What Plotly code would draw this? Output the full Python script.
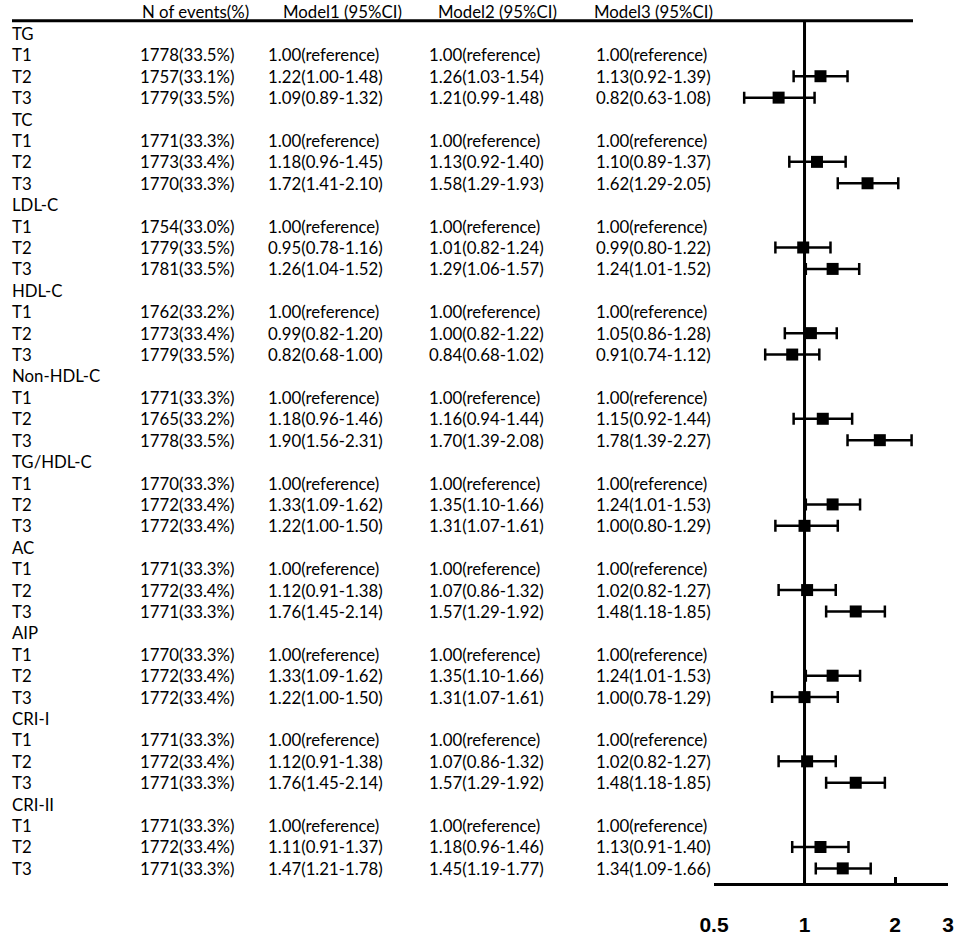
import numpy as np
import plotly.graph_objects as go

W, H = 957, 937

groups = ["TG", "TC", "LDL-C", "HDL-C", "Non-HDL-C", "TG/HDL-C", "AC", "AIP", "CRI-I", "CRI-II"]
tertiles = ["T1", "T2", "T3"]

# N of events(%) for T1, T2, T3 of each group
events = [
    "1778(33.5%)", "1757(33.1%)", "1779(33.5%)",
    "1771(33.3%)", "1773(33.4%)", "1770(33.3%)",
    "1754(33.0%)", "1779(33.5%)", "1781(33.5%)",
    "1762(33.2%)", "1773(33.4%)", "1779(33.5%)",
    "1771(33.3%)", "1765(33.2%)", "1778(33.5%)",
    "1770(33.3%)", "1772(33.4%)", "1772(33.4%)",
    "1771(33.3%)", "1772(33.4%)", "1771(33.3%)",
    "1770(33.3%)", "1772(33.4%)", "1772(33.4%)",
    "1771(33.3%)", "1772(33.4%)", "1771(33.3%)",
    "1771(33.3%)", "1772(33.4%)", "1771(33.3%)",
]

# hazard ratios for T2 and T3 (T1 is the reference), per group
m1_hr = [1.22, 1.09, 1.18, 1.72, 0.95, 1.26, 0.99, 0.82, 1.18, 1.90, 1.33, 1.22, 1.12, 1.76, 1.33, 1.22, 1.12, 1.76, 1.11, 1.47]
m1_lo = [1.00, 0.89, 0.96, 1.41, 0.78, 1.04, 0.82, 0.68, 0.96, 1.56, 1.09, 1.00, 0.91, 1.45, 1.09, 1.00, 0.91, 1.45, 0.91, 1.21]
m1_hi = [1.48, 1.32, 1.45, 2.10, 1.16, 1.52, 1.20, 1.00, 1.46, 2.31, 1.62, 1.50, 1.38, 2.14, 1.62, 1.50, 1.38, 2.14, 1.37, 1.78]

m2_hr = [1.26, 1.21, 1.13, 1.58, 1.01, 1.29, 1.00, 0.84, 1.16, 1.70, 1.35, 1.31, 1.07, 1.57, 1.35, 1.31, 1.07, 1.57, 1.18, 1.45]
m2_lo = [1.03, 0.99, 0.92, 1.29, 0.82, 1.06, 0.82, 0.68, 0.94, 1.39, 1.10, 1.07, 0.86, 1.29, 1.10, 1.07, 0.86, 1.29, 0.96, 1.19]
m2_hi = [1.54, 1.48, 1.40, 1.93, 1.24, 1.57, 1.22, 1.02, 1.44, 2.08, 1.66, 1.61, 1.32, 1.92, 1.66, 1.61, 1.32, 1.92, 1.46, 1.77]

m3_hr = [1.13, 0.82, 1.10, 1.62, 0.99, 1.24, 1.05, 0.91, 1.15, 1.78, 1.24, 1.00, 1.02, 1.48, 1.24, 1.00, 1.02, 1.48, 1.13, 1.34]
m3_lo = [0.92, 0.63, 0.89, 1.29, 0.80, 1.01, 0.86, 0.74, 0.92, 1.39, 1.01, 0.80, 0.82, 1.18, 1.01, 0.78, 0.82, 1.18, 0.91, 1.09]
m3_hi = [1.39, 1.08, 1.37, 2.05, 1.22, 1.52, 1.28, 1.12, 1.44, 2.27, 1.53, 1.29, 1.27, 1.85, 1.53, 1.29, 1.27, 1.85, 1.40, 1.66]

headers = ["N of events(%)", "Model1 (95%CI)", "Model2 (95%CI)", "Model3 (95%CI)"]
xticks = [0.5, 1, 2, 3]

FONT = "Lato"
FS = 16.8

# pixel layout helpers
row0, row_h = 33.4, 21.41
top_px, axis_px = 20.7, 883
col_px = [10, 138, 266, 427, 594]
head_px = [140, 281, 436, 592]


def px_x(p):
    return p / W


def px_y(p):
    return 1 - p / H


def fmt(hr, lo, hi):
    return f"{hr:.2f}({lo:.2f}-{hi:.2f})"


annotations = []


def add_text(text, x, y, yref="y"):
    annotations.append(dict(text=text, x=x, y=y, xref="paper", yref=yref,
                            xanchor="left", yanchor="middle", showarrow=False,
                            font=dict(family=FONT, size=FS, color="black")))


for h, hx in zip(headers, head_px):
    add_text(h, px_x(hx), px_y(11), yref="paper")

pt_y = []
r = 0
k = 0
for gi, g in enumerate(groups):
    add_text(g, px_x(col_px[0]), r)
    r += 1
    for ti, t in enumerate(tertiles):
        add_text(t, px_x(col_px[0]), r)
        add_text(events[gi * 3 + ti], px_x(col_px[1]), r)
        if ti == 0:
            for c in col_px[2:]:
                add_text("1.00(reference)", px_x(c), r)
        else:
            add_text(fmt(m1_hr[k], m1_lo[k], m1_hi[k]), px_x(col_px[2]), r)
            add_text(fmt(m2_hr[k], m2_lo[k], m2_hi[k]), px_x(col_px[3]), r)
            add_text(fmt(m3_hr[k], m3_lo[k], m3_hi[k]), px_x(col_px[4]), r)
            pt_y.append(r)
            k += 1
        r += 1

y_top = (top_px - row0) / row_h
y_bot = (axis_px - row0) / row_h

fig = go.Figure()

# reference line at HR = 1
fig.add_trace(go.Scatter(x=[1, 1], y=[y_top, y_bot], mode="lines",
                         line=dict(color="black", width=3), hoverinfo="skip",
                         cliponaxis=False))

hr = np.array(m3_hr)
fig.add_trace(go.Scatter(
    x=hr, y=pt_y, mode="markers",
    marker=dict(symbol="square", size=12, color="black"),
    error_x=dict(type="data", symmetric=False,
                 array=np.array(m3_hi) - hr, arrayminus=hr - np.array(m3_lo),
                 color="black", thickness=2.5, width=6),
    cliponaxis=False,
))

fig.add_shape(type="line", xref="paper", yref="paper",
              x0=px_x(12), x1=px_x(913), y0=px_y(top_px), y1=px_y(top_px),
              line=dict(color="black", width=3))

fig.update_layout(
    width=W, height=H,
    margin=dict(l=0, r=0, t=0, b=0, autoexpand=False),
    paper_bgcolor="white", plot_bgcolor="white",
    showlegend=False,
    annotations=annotations,
    xaxis=dict(type="log", range=[np.log10(0.5), np.log10(3)],
               domain=[px_x(714), px_x(948)], automargin=False,
               showline=True, linecolor="black", linewidth=2.5,
               ticks="inside", ticklen=6, tickwidth=2.5, tickcolor="black",
               tickvals=xticks, ticktext=[str(v) for v in xticks],
               tickfont=dict(family="Liberation Sans", size=21, color="black", weight="bold"),
               ticklabelstandoff=21,
               showgrid=False, zeroline=False, fixedrange=True),
    yaxis=dict(range=[y_bot, y_top], domain=[px_y(axis_px), px_y(top_px)],
               visible=False, automargin=False, fixedrange=True),
)

# drop the default page margin so the figure sits at the window's corner
fig.write_html("out.html", config={"displayModeBar": False},
               post_script="document.body.style.margin = '0';")
